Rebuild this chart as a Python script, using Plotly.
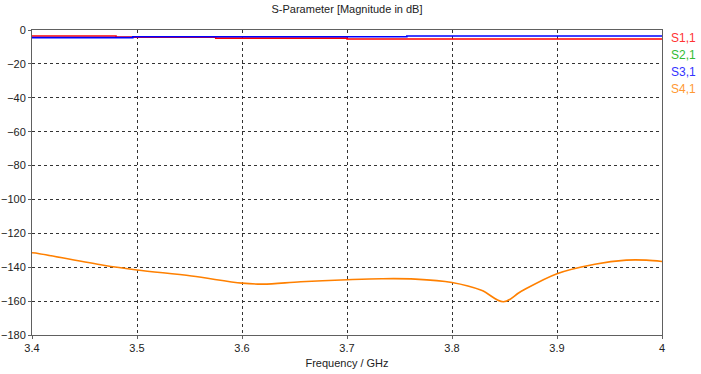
import plotly.graph_objects as go

# S1,1 (step-like)
s11_f = [3.4, 3.48, 3.575, 3.70, 4.0]
s11_db = [-3.5, -4.2, -4.8, -5.3, -5.3]
# S2,1 (not visible in plot)
s21_f = []
s21_db = []
# S3,1
s31_f = [3.4, 3.496, 3.757, 4.0]
s31_db = [-4.5, -4.0, -3.5, -3.5]
# S4,1
s41_f = [3.4, 3.407, 3.468, 3.5, 3.552, 3.6, 3.62, 3.656, 3.7, 3.733, 3.765,
         3.8, 3.828, 3.849, 3.866, 3.9, 3.936, 3.966, 3.985, 4.0]
s41_db = [-131.5, -132.0, -138.8, -141.6, -145.2, -149.4, -150.0, -148.6, -147.4,
          -146.8, -147.0, -149.0, -153.6, -160.4, -154.2, -143.8, -138.2, -135.8,
          -135.8, -136.6]

labels = ["S1,1", "S2,1", "S3,1", "S4,1"]
line_colors = ["#ff0000", "#00b000", "#0000ff", "#ff8000"]
label_colors = ["#ff3333", "#33bb33", "#3333ff", "#ff9933"]

fig = go.Figure()
series = [(s11_f, s11_db, "hv"), (s21_f, s21_db, "linear"),
          (s31_f, s31_db, "hv"), (s41_f, s41_db, "spline")]
for (f, d, shape), c, name in zip(series, line_colors, labels):
    fig.add_trace(go.Scatter(x=f, y=d, mode="lines", name=name,
                             line=dict(color=c, width=1.6, shape=shape),
                             showlegend=False, cliponaxis=True))

for i, (lab, c) in enumerate(zip(labels, label_colors)):
    fig.add_annotation(text=lab, xref="paper", yref="paper",
                       x=1.011, y=1 - (8 + 17 * i) / 305.0,
                       xanchor="left", yanchor="middle", showarrow=False,
                       font=dict(color=c, size=12))

axis_common = dict(showline=True, linecolor="#606060", linewidth=1, mirror=True,
                   showgrid=True, gridcolor="#333333", griddash="dot", gridwidth=1,
                   ticks="outside", ticklen=3, tickcolor="#606060",
                   tickfont=dict(size=11, color="#222"), zeroline=False,
                   automargin=False)

fig.update_layout(
    width=701, height=374,
    margin=dict(l=32, r=39, t=30, b=39, autoexpand=False),
    paper_bgcolor="white", plot_bgcolor="white",
    font=dict(family="Liberation Sans, Arial", size=11, color="#222"),
    title=dict(text="S-Parameter [Magnitude in dB]", x=0.5, xanchor="center", xref="paper",
               y=1 - 5 / 374, yanchor="top", font=dict(size=11)),
    xaxis=dict(range=[3.4, 4.0], tickvals=[3.4, 3.5, 3.6, 3.7, 3.8, 3.9, 4.0],
               ticktext=["3.4", "3.5", "3.6", "3.7", "3.8", "3.9", "4"],
               title=dict(text="Frequency / GHz", font=dict(size=11), standoff=6),
               **axis_common),
    yaxis=dict(range=[-180, 0], tickvals=list(range(-180, 1, 20)),
               **axis_common),
)

fig.write_html("out.html", config={"displayModeBar": False},
               post_script="document.body.style.margin='0';document.body.style.padding='0';")
